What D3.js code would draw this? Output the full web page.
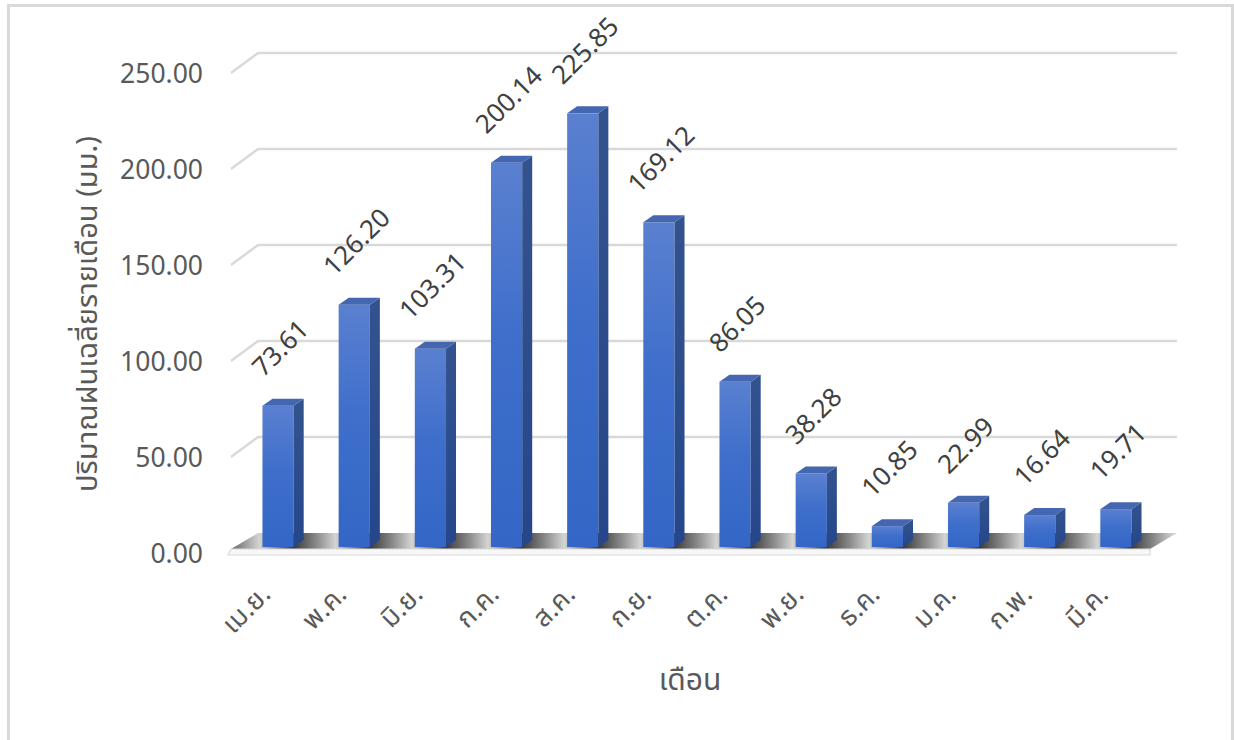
<!DOCTYPE html>
<html>
<head>
<meta charset="utf-8">
<script src="https://cdn.jsdelivr.net/npm/d3@7"></script>
<style>
  body { margin: 0; background: #fff; }
  text { font-family: "Noto Sans Thai", "Leelawadee UI", "Segoe UI", "Open Sans", "Noto Sans", sans-serif; }
</style>
</head>
<body>
<div id="vis-holder"></div>
<script>
// Chart data
const months = ["เม.ย.", "พ.ค.", "มิ.ย.", "ก.ค.", "ส.ค.", "ก.ย.", "ต.ค.", "พ.ย.", "ธ.ค.", "ม.ค.", "ก.พ.", "มี.ค."];
const rainfall = [73.61, 126.20, 103.31, 200.14, 225.85, 169.12, 86.05, 38.28, 10.85, 22.99, 16.64, 19.71];
const yTicks = [0, 50, 100, 150, 200, 250];
const yTitle = "ปริมาณฝนเฉลี่ยรายเดือน (มม.)";
const xTitle = "เดือน";

const width = 1234;
const height = 740;

// 3D look: full depth of the floor / walls and depth of a bar
const depth = { dx: 27, dy: -20 };
const barDepth = { dx: 10, dy: -7 };
const barInset = 6; // bars stand a bit behind the front edge

const svg = d3.select("#vis-holder")
  .append("svg")
  .attr("width", width)
  .attr("height", height);

// Outer frame
svg.append("rect")
  .attr("x", 8.5).attr("y", 5.5)
  .attr("width", 1224).attr("height", 760)
  .attr("fill", "none")
  .attr("stroke", "#d9d9d9")
  .attr("stroke-width", 3);

// Scales (front plane)
const x = d3.scaleBand()
  .domain(months)
  .range([240, 1154])
  .paddingInner(0.59)
  .paddingOuter(0.295);

const y = d3.scaleLinear()
  .domain([0, 250])
  .range([553, 73]);

const floorLeft = 231, floorRight = 1150;

// Gradients
const defs = svg.append("defs");

const front = defs.append("linearGradient")
  .attr("id", "barFront").attr("x1", 0).attr("y1", 0).attr("x2", 0).attr("y2", 1);
front.append("stop").attr("offset", "0%").attr("stop-color", "#5a80d0");
front.append("stop").attr("offset", "45%").attr("stop-color", "#3f6fcb");
front.append("stop").attr("offset", "100%").attr("stop-color", "#3366c6");

const side = defs.append("linearGradient")
  .attr("id", "barSide").attr("x1", 0).attr("y1", 0).attr("x2", 0).attr("y2", 1);
side.append("stop").attr("offset", "0%").attr("stop-color", "#33538f");
side.append("stop").attr("offset", "100%").attr("stop-color", "#25468a");

const floorGrad = defs.append("linearGradient")
  .attr("id", "floorGrad")
  .attr("gradientUnits", "userSpaceOnUse")
  .attr("spreadMethod", "repeat")
  .attr("x1", x(months[0]) + x.bandwidth())
  .attr("x2", x(months[0]) + x.bandwidth() + x.step())
  .attr("y1", 0).attr("y2", 0);
floorGrad.append("stop").attr("offset", "0%").attr("stop-color", "#3a3a3a");
floorGrad.append("stop").attr("offset", "30%").attr("stop-color", "#8a8a8a");
floorGrad.append("stop").attr("offset", "55%").attr("stop-color", "#d4d4d4");
floorGrad.append("stop").attr("offset", "80%").attr("stop-color", "#7a7a7a");
floorGrad.append("stop").attr("offset", "100%").attr("stop-color", "#3a3a3a");

// Gridlines (back wall + side wall diagonal)
const grid = svg.append("g");
yTicks.filter(d => d > 0).forEach(t => {
  const yf = y(t), yb = y(t) + depth.dy;
  grid.append("path")
    .attr("d", `M${floorLeft},${yf} L${floorLeft + depth.dx},${yb} L${floorRight + depth.dx},${yb}`)
    .attr("fill", "none")
    .attr("stroke", "#d9d9d9")
    .attr("stroke-width", 2.5);
});

// Floor
const yFloorFront = y(0) - 4;
const yFloorBack = y(0) + depth.dy;
svg.append("path")
  .attr("d", `M${floorLeft},${yFloorFront} L${floorRight},${yFloorFront} L${floorRight + depth.dx},${yFloorBack} L${floorLeft + depth.dx},${yFloorBack} Z`)
  .attr("fill", "url(#floorGrad)");
svg.append("path")
  .attr("d", `M${floorLeft},${yFloorFront} L${floorRight},${yFloorFront} L${floorRight},${y(0) + 2} L${floorLeft - 3},${y(0) + 2} Z`)
  .attr("fill", "#f7f7f7")
  .attr("stroke", "#d9d9d9")
  .attr("stroke-width", 1.2);

// Bars
const bars = svg.selectAll(".bar")
  .data(rainfall)
  .enter()
  .append("g")
  .attr("class", "bar");

bars.append("rect")
  .attr("x", (d, i) => x(months[i]))
  .attr("y", d => y(d) - barInset)
  .attr("width", x.bandwidth())
  .attr("height", d => y(0) - y(d))
  .attr("fill", "url(#barFront)");

bars.append("path")
  .attr("d", (d, i) => {
    const x0 = x(months[i]) + x.bandwidth();
    const yt = y(d) - barInset, yb = y(0) - barInset;
    return `M${x0},${yt} L${x0 + barDepth.dx},${yt + barDepth.dy} L${x0 + barDepth.dx},${yb + barDepth.dy} L${x0},${yb} Z`;
  })
  .attr("fill", "url(#barSide)");

bars.append("path")
  .attr("d", (d, i) => {
    const x0 = x(months[i]), x1 = x0 + x.bandwidth();
    const yt = y(d) - barInset;
    return `M${x0},${yt} L${x0 + barDepth.dx},${yt + barDepth.dy} L${x1 + barDepth.dx},${yt + barDepth.dy} L${x1},${yt} Z`;
  })
  .attr("fill", "#4566b0");

// Data labels, rotated
const labels = svg.selectAll(".val")
  .data(rainfall)
  .enter()
  .append("text")
  .attr("class", "val")
  .attr("fill", "#404040")
  .attr("font-size", "26px")
  .attr("text-anchor", "middle")
  .attr("dominant-baseline", "central")
  .text(d => d.toFixed(2));

labels.attr("transform", function (d, i) {
  const len = this.getComputedTextLength();
  const box = (len + 18) * Math.SQRT1_2;
  const cx = x(months[i]) + x.bandwidth() / 2 + 3;
  const cy = y(d) - barInset + barDepth.dy - 20 - box / 2;
  return `translate(${cx},${cy}) rotate(-45)`;
});

// Y tick labels
svg.selectAll(".ytick")
  .data(yTicks)
  .enter()
  .append("text")
  .attr("class", "ytick")
  .attr("x", 203)
  .attr("y", d => y(d) + 2)
  .attr("text-anchor", "end")
  .attr("dominant-baseline", "central")
  .attr("fill", "#595959")
  .attr("font-size", "26.5px")
  .text(d => d.toFixed(2));

// X tick labels, rotated
svg.selectAll(".xtick")
  .data(months)
  .enter()
  .append("text")
  .attr("class", "xtick")
  .attr("text-anchor", "end")
  .attr("fill", "#595959")
  .attr("font-size", "27px")
  .attr("transform", d => `translate(${x(d) + x.bandwidth() / 2 - 6},${596}) rotate(-45)`)
  .text(d => d);

// Axis titles
svg.append("text")
  .attr("transform", "translate(88,314) rotate(-90)")
  .attr("text-anchor", "middle")
  .attr("dominant-baseline", "central")
  .attr("fill", "#595959")
  .attr("font-size", "29px")
  .text(yTitle);

svg.append("text")
  .attr("x", 690)
  .attr("y", 690)
  .attr("text-anchor", "middle")
  .attr("fill", "#595959")
  .attr("font-size", "30px")
  .text(xTitle);
</script>
</body>
</html>
